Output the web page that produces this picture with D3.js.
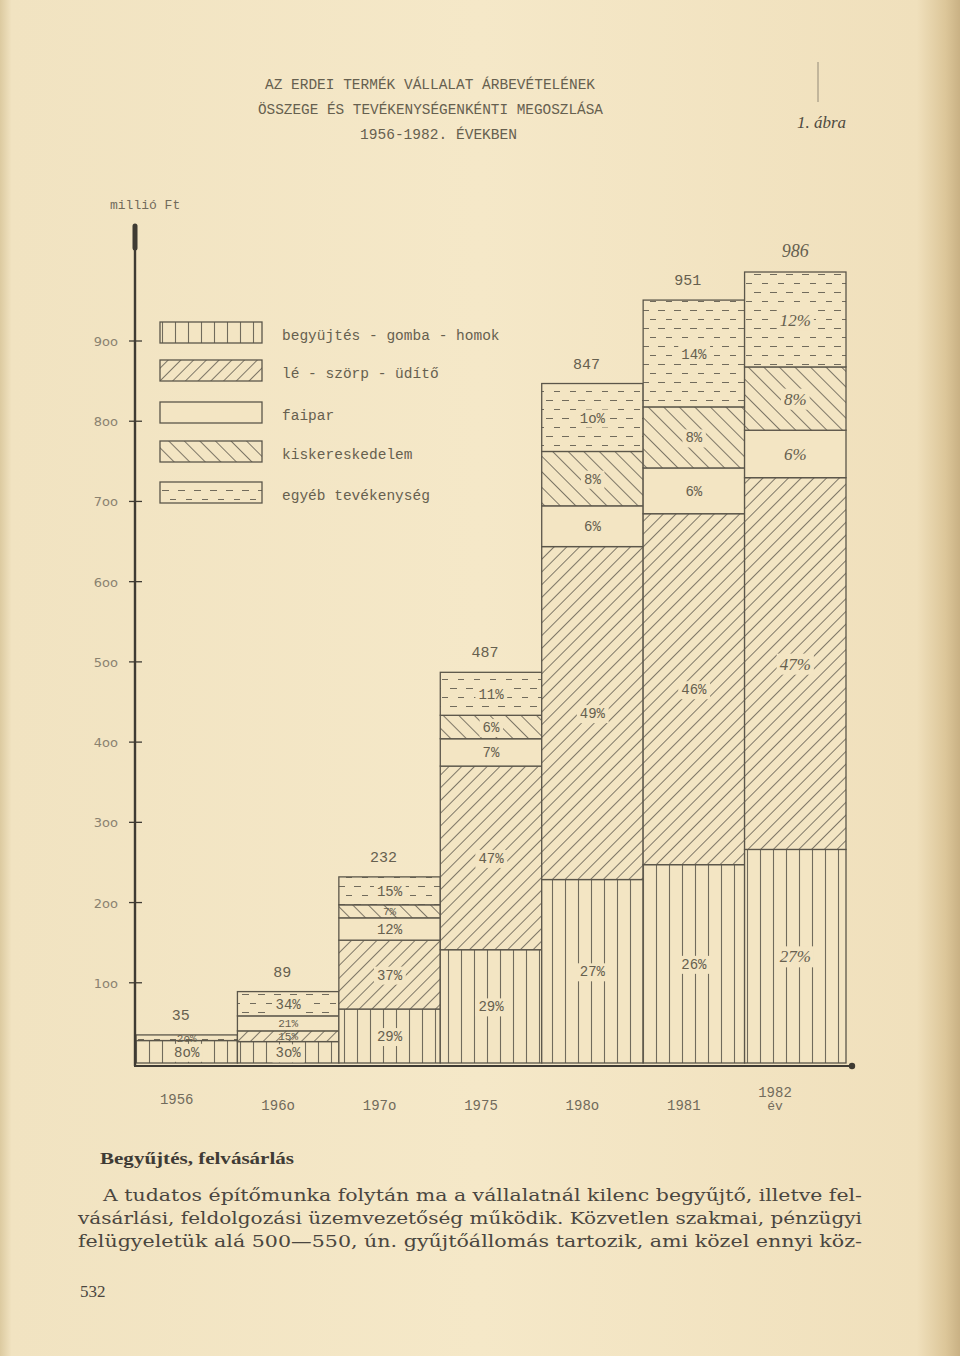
<!DOCTYPE html>
<html><head><meta charset="utf-8">
<script src="https://cdn.jsdelivr.net/npm/d3@7"></script>
<style>html,body{margin:0;padding:0;background:#f3e5c3;} svg{display:block;}</style>
</head><body>
<svg id="c" width="960" height="1356"></svg>
<script>
// ---------------- DATA ----------------
const years = ["1956", "1960", "1970", "1975", "1980", "1981", "1982"];
const yearLabels = ["1956", "196o", "197o", "1975", "198o", "1981", "1982"];
const totals = [35, 89, 232, 487, 847, 951, 986];
const categories = ["begyüjtés - gomba - homok", "lé - szörp - üdítő", "faipar", "kiskereskedelem", "egyéb tevékenység"];
// shares in percent, bottom to top
const begyujtes = [80, 30, 29, 29, 27, 26, 27];
const leSzorp   = [0, 15, 37, 47, 49, 46, 47];
const faipar    = [0, 21, 12, 7, 6, 6, 6];
const kisker    = [0, 0, 7, 6, 8, 8, 8];
const egyeb     = [20, 34, 15, 11, 10, 14, 12];
const yTicks = [100, 200, 300, 400, 500, 600, 700, 800, 900];
const yTickLabels = ["1oo", "2oo", "3oo", "4oo", "5oo", "6oo", "7oo", "8oo", "9oo"];
const titleLines = ["AZ ERDEI TERMÉK VÁLLALAT ÁRBEVÉTELÉNEK", "ÖSSZEGE ÉS TEVÉKENYSÉGENKÉNTI MEGOSZLÁSA", "1956-1982. ÉVEKBEN"];
const paragraph = [
  "A tudatos építőmunka folytán ma a vállalatnál kilenc begyűjtő, illetve fel-",
  "vásárlási, feldolgozási üzemvezetőség működik. Közvetlen szakmai, pénzügyi",
  "felügyeletük alá 500—550, ún. gyűjtőállomás tartozik, ami közel ennyi köz-"
];
const seriesList = [begyujtes, leSzorp, faipar, kisker, egyeb];

// ---------------- SETUP ----------------
const paper = "#f3e5c3", ink = "#5b564a", inkLight = "#716b5c", textInk = "#66604f";
const typeFont = "'Liberation Mono', 'DejaVu Sans Mono', monospace";
const svg = d3.select("#c");

const defs = svg.append("defs");
const bg = defs.append("linearGradient").attr("id", "bg").attr("x1", 0).attr("x2", 1).attr("y1", 0).attr("y2", 0);
[[0, "#dccaa0"], [0.012, "#f1e3c1"], [0.5, "#f5e8c8"], [0.955, "#f0e0bc"], [0.985, "#dcc699"], [1, "#c9b184"]]
  .forEach(([o, c]) => bg.append("stop").attr("offset", o).attr("stop-color", c));
svg.append("rect").attr("width", 960).attr("height", 1356).attr("fill", "url(#bg)");

// patterns
function linePattern(id, w, rot, sw) {
  const p = defs.append("pattern").attr("id", id).attr("patternUnits", "userSpaceOnUse")
    .attr("width", w).attr("height", w).attr("patternTransform", `rotate(${rot})`);
  p.append("rect").attr("width", w).attr("height", w).attr("fill", paper);
  p.append("line").attr("x1", w / 2).attr("x2", w / 2).attr("y1", 0).attr("y2", w)
    .attr("stroke", inkLight).attr("stroke-width", sw);
}
linePattern("p0", 13, 0, 1.1);
linePattern("p1", 9, 45, 0.9);
linePattern("p3", 11, -45, 0.9);
const pd = defs.append("pattern").attr("id", "p4").attr("patternUnits", "userSpaceOnUse")
  .attr("width", 16).attr("height", 18);
pd.append("rect").attr("width", 16).attr("height", 18).attr("fill", paper);
pd.append("line").attr("x1", 2).attr("x2", 9).attr("y1", 4.5).attr("y2", 4.5).attr("stroke", inkLight).attr("stroke-width", 1);
pd.append("line").attr("x1", 10).attr("x2", 17).attr("y1", 13.5).attr("y2", 13.5).attr("stroke", inkLight).attr("stroke-width", 1);
const fills = ["url(#p0)", "url(#p1)", paper, "url(#p3)", "url(#p4)"];

// scales
const x = d3.scaleBand().domain(years).range([136, 846]).padding(0);
const y = d3.scaleLinear().domain([0, 900]).range([1063, 341]);

// ---------------- TITLE ----------------
const titleSpans = [[265, 595, 89], [258, 603, 114], [360, 517, 139]];
titleLines.forEach((t, i) => {
  svg.append("text").attr("x", titleSpans[i][0]).attr("y", titleSpans[i][2])
    .attr("textLength", titleSpans[i][1] - titleSpans[i][0]).attr("lengthAdjust", "spacingAndGlyphs")
    .attr("font-family", typeFont).attr("font-size", 15).attr("fill", textInk).text(t);
});
svg.append("text").attr("x", 797).attr("y", 128).attr("font-family", "'Liberation Serif', serif")
  .attr("font-style", "italic").attr("font-size", 17).attr("fill", "#4f4a40").text("1. ábra");
svg.append("line").attr("x1", 818).attr("x2", 818).attr("y1", 62).attr("y2", 102)
  .attr("stroke", "#8a8070").attr("stroke-width", 1.5).attr("opacity", 0.6);

// unit label
svg.append("text").attr("x", 110).attr("y", 209).attr("font-family", typeFont).attr("font-size", 13)
  .attr("fill", inkLight).text("millió Ft");

// ---------------- BARS ----------------
const g = svg.append("g");
years.forEach((yr, i) => {
  let cum = 0;
  const x0 = x(yr), bw = x.bandwidth();
  seriesList.forEach((s, k) => {
    const share = s[i];
    if (!share) return;
    const v0 = totals[i] * cum / 100;
    cum += share;
    const v1 = totals[i] * cum / 100;
    g.append("rect").attr("x", x0).attr("y", y(v1)).attr("width", bw).attr("height", y(v0) - y(v1))
      .attr("fill", fills[k]).attr("stroke", ink).attr("stroke-width", 1.3);
  });
});
// percent labels
years.forEach((yr, i) => {
  let cum = 0;
  const cx = x(yr) + x.bandwidth() / 2;
  seriesList.forEach((s, k) => {
    const share = s[i];
    if (!share) return;
    const v0 = totals[i] * cum / 100;
    cum += share;
    const v1 = totals[i] * cum / 100;
    const h = y(v0) - y(v1);
    const cy = (y(v0) + y(v1)) / 2;
    const hand = yr === "1982";
    const small = h < 16;
    const fs = hand ? 17 : (small ? 11 : 14);
    const t = g.append("text").attr("x", cx).attr("y", cy + fs * 0.36).attr("text-anchor", "middle")
      .attr("font-family", hand ? "'Liberation Serif', serif" : typeFont)
      .attr("font-style", hand ? "italic" : "normal")
      .attr("font-size", fs).attr("fill", textInk)
      .text(hand ? share + "%" : String(share).replace(/0/g, "o") + "%");
    if (k !== 2 && h > 14) {
      const b = t.node().getBBox();
      g.insert("rect", () => t.node()).attr("x", b.x - 3).attr("y", b.y - 1)
        .attr("width", b.width + 6).attr("height", b.height + 2).attr("fill", paper);
    }
  });
});
// totals
years.forEach((yr, i) => {
  const hand = yr === "1982";
  svg.append("text").attr("x", x(yr) + x.bandwidth() / 2 - (hand ? 0 : 6)).attr("y", y(totals[i]) - 15)
    .attr("text-anchor", "middle")
    .attr("font-family", hand ? "'Liberation Serif', serif" : typeFont)
    .attr("font-style", hand ? "italic" : "normal")
    .attr("font-size", hand ? 18 : 15).attr("fill", textInk).text(totals[i]);
});

// ---------------- AXES ----------------
svg.append("line").attr("x1", 135).attr("x2", 135).attr("y1", 236).attr("y2", 1066)
  .attr("stroke", "#3f3b33").attr("stroke-width", 2.4);
svg.append("line").attr("x1", 135).attr("x2", 135).attr("y1", 226).attr("y2", 248)
  .attr("stroke", "#3f3b33").attr("stroke-width", 5).attr("stroke-linecap", "round");
svg.append("line").attr("x1", 134).attr("x2", 853).attr("y1", 1066).attr("y2", 1066)
  .attr("stroke", "#3f3b33").attr("stroke-width", 2.2);
svg.append("circle").attr("cx", 852).attr("cy", 1066).attr("r", 3.2).attr("fill", "#3f3b33");
yTicks.forEach((v, i) => {
  svg.append("line").attr("x1", 129).attr("x2", 142).attr("y1", y(v)).attr("y2", y(v))
    .attr("stroke", "#3f3b33").attr("stroke-width", 1.3);
  svg.append("text").attr("x", 118).attr("y", y(v) + 5).attr("text-anchor", "end")
    .attr("font-family", "'DejaVu Sans', sans-serif").attr("font-size", 13).attr("fill", "#8a8270")
    .text(yTickLabels[i]);
});
years.forEach((yr, i) => {
  const last = i === years.length - 1;
  svg.append("text").attr("x", last ? 775 : x(yr) + x.bandwidth() / 2 - 10)
    .attr("y", last ? 1097 : (i === 0 ? 1104 : 1110)).attr("text-anchor", "middle")
    .attr("font-family", typeFont).attr("font-size", 14).attr("fill", inkLight).text(yearLabels[i]);
});
svg.append("text").attr("x", 775).attr("y", 1110).attr("text-anchor", "middle")
  .attr("font-family", typeFont).attr("font-size", 13).attr("fill", inkLight).text("év");

// ---------------- LEGEND ----------------
const legendY = [322, 360, 402, 441, 482];
categories.forEach((c, k) => {
  svg.append("rect").attr("x", 160).attr("y", legendY[k]).attr("width", 102).attr("height", 21)
    .attr("fill", fills[k]).attr("stroke", ink).attr("stroke-width", 1.3);
  svg.append("text").attr("x", 282).attr("y", legendY[k] + 18).attr("font-family", typeFont)
    .attr("font-size", 14.5).attr("fill", textInk).text(c);
});

// ---------------- BODY TEXT ----------------
const serif = "'DejaVu Serif', 'Liberation Serif', serif";
svg.append("text").attr("x", 100).attr("y", 1164).attr("font-family", "'Liberation Serif', serif").attr("font-weight", "bold")
  .attr("font-size", 16).attr("textLength", 194).attr("lengthAdjust", "spacingAndGlyphs")
  .attr("fill", "#3f3b35").text("Begyűjtés, felvásárlás");
const pSpans = [[103, 862, 1201], [78, 862, 1224], [78, 862, 1247]];
paragraph.forEach((l, i) => {
  svg.append("text").attr("x", pSpans[i][0]).attr("y", pSpans[i][2]).attr("font-family", serif)
    .attr("font-size", 16.5).attr("textLength", pSpans[i][1] - pSpans[i][0]).attr("lengthAdjust", "spacingAndGlyphs")
    .attr("fill", "#4a463f").text(l);
});
svg.append("text").attr("x", 80).attr("y", 1297).attr("font-family", "'Liberation Serif', serif").attr("font-size", 17)
  .attr("fill", "#4a463f").text("532");
</script>
</body></html>
